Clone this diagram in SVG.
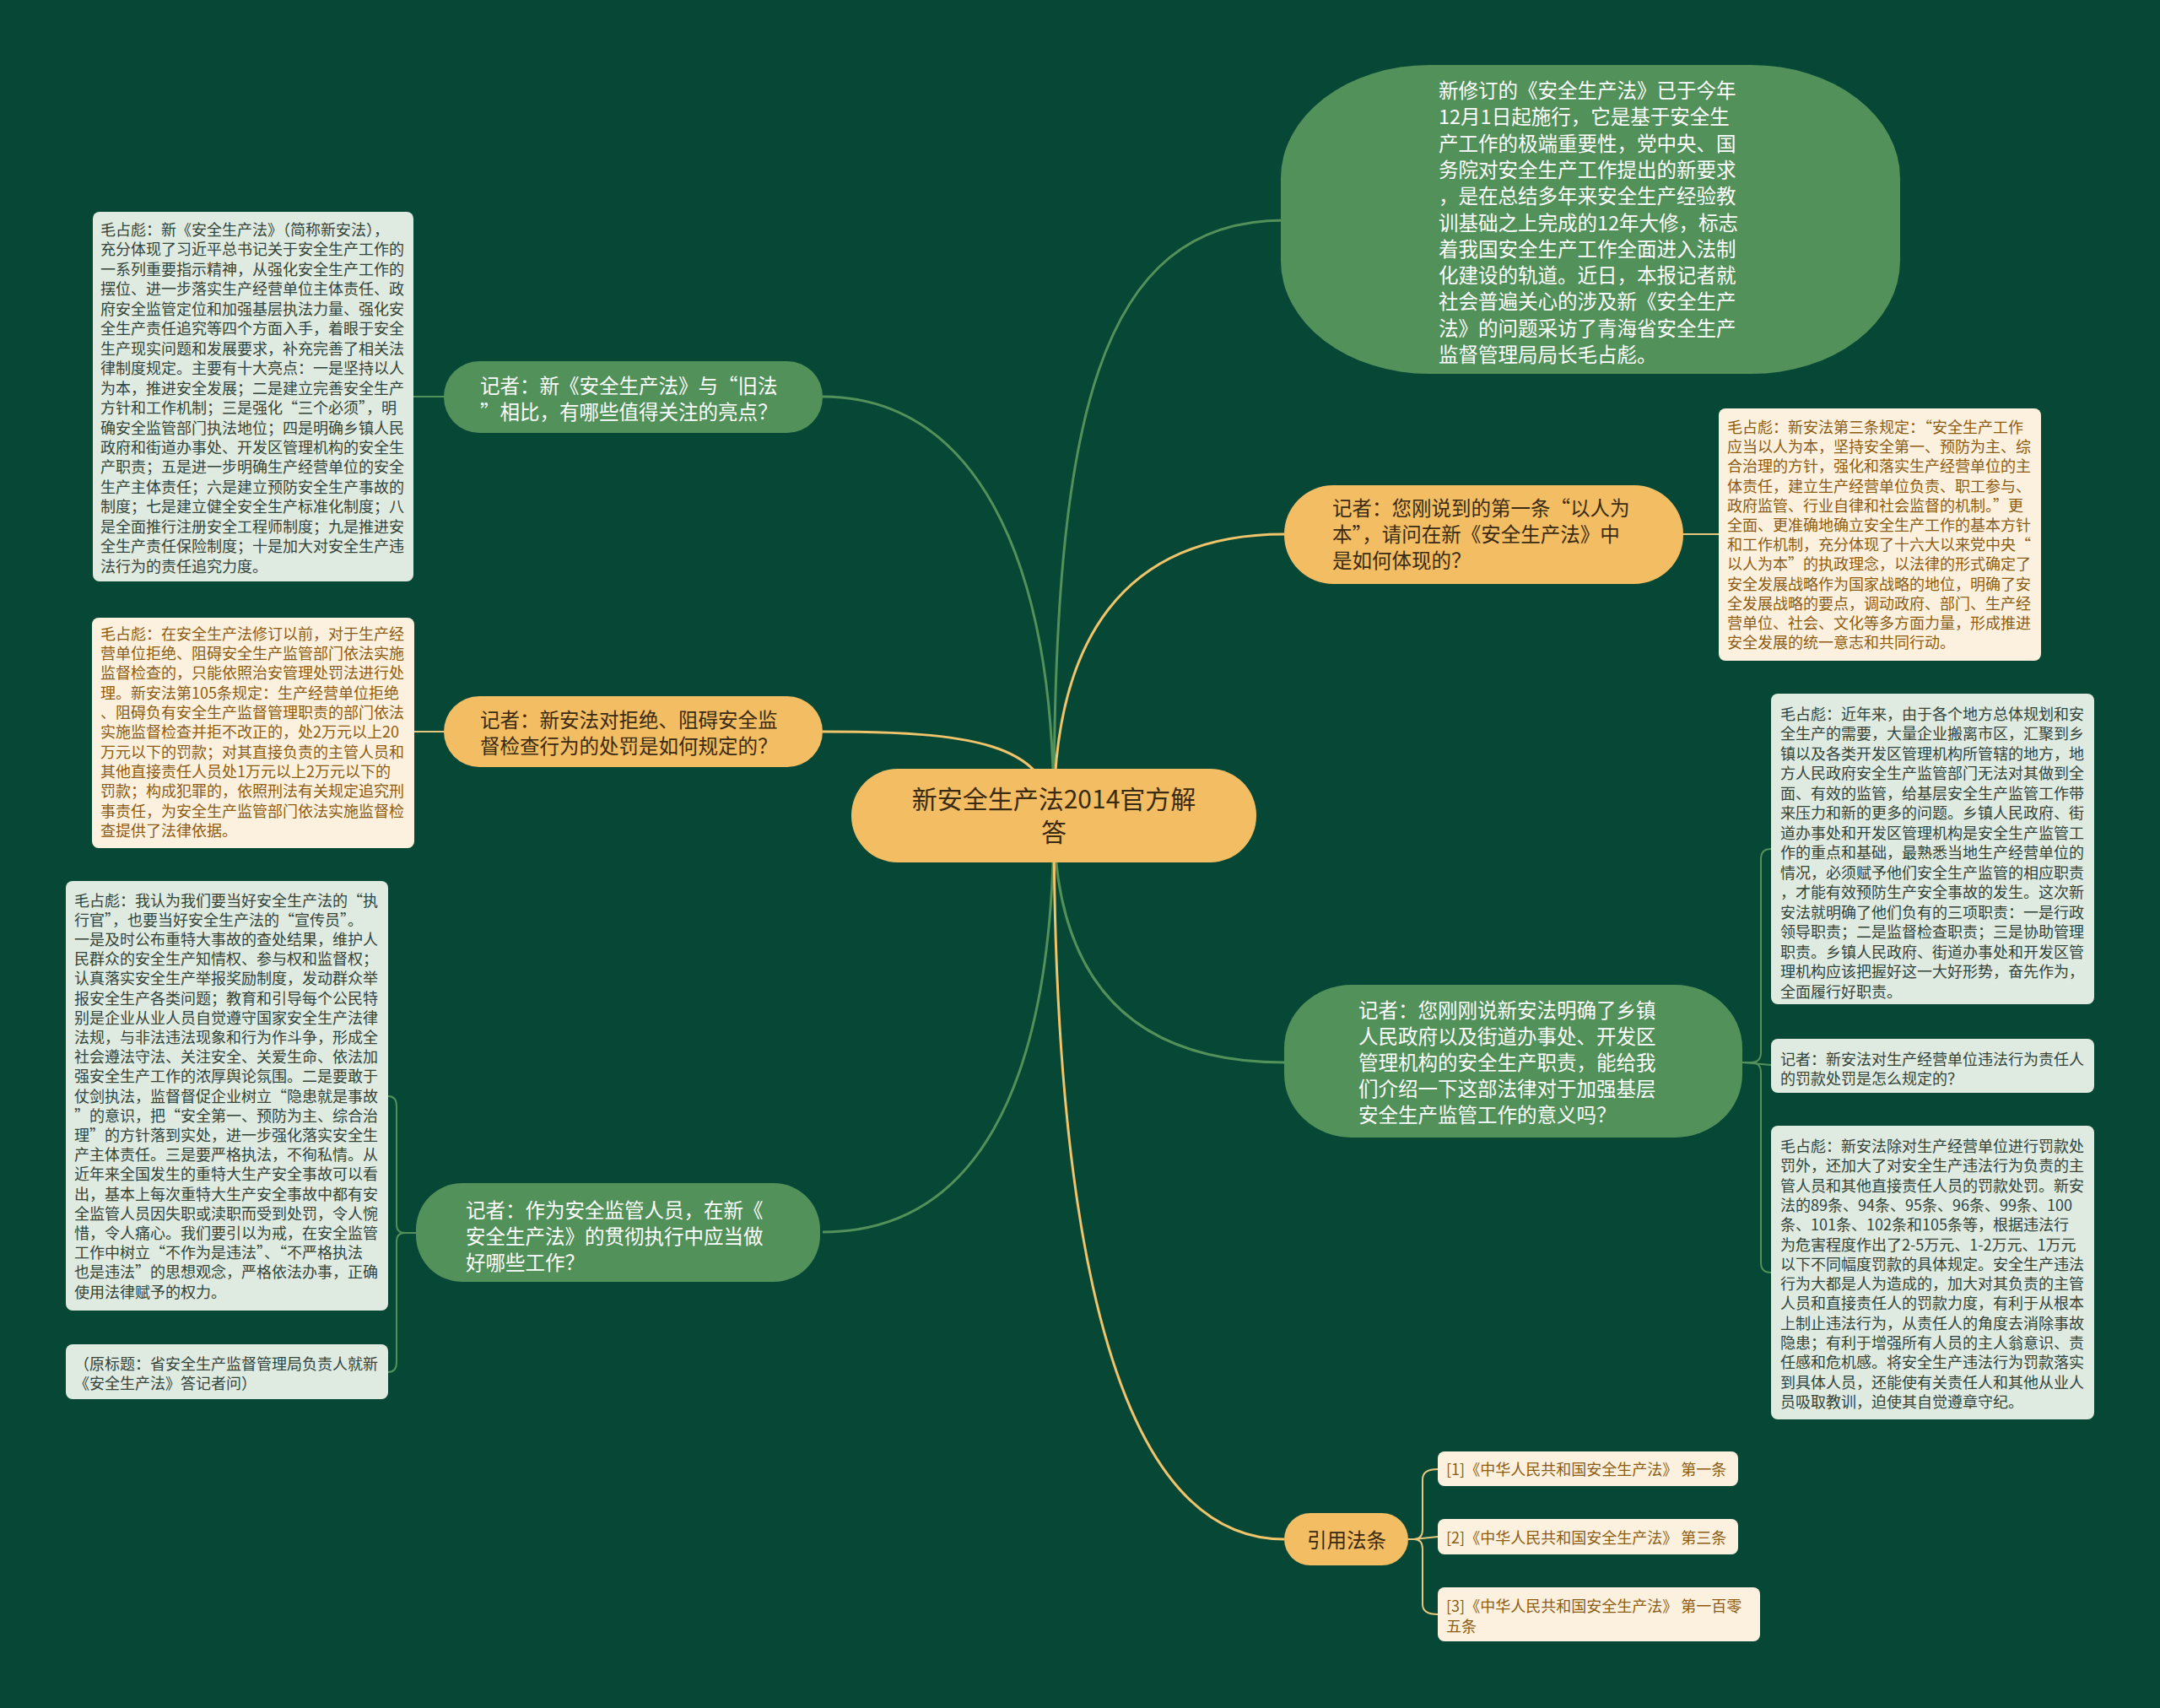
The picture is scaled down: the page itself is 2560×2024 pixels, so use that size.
<svg xmlns="http://www.w3.org/2000/svg" width="2560" height="2024" viewBox="0 0 2560 2024">
<style>
text{font-family:"Noto Sans CJK SC","Noto Sans",sans-serif;}
.gnode{fill:#52915a;}
.onode{fill:#f2bd63;}
.cream{fill:#fcf1de;}
.lg{fill:#dfeae0;}
.tw{fill:#ffffff;font-size:23.5px;}
.td{fill:#3a2a12;font-size:23.5px;}
.tb{fill:#8d5c12;font-size:18px;}
.tg{fill:#33443a;font-size:18px;}
.cg{fill:none;stroke:#52915a;stroke-width:3;}
.cy{fill:none;stroke:#efc46a;stroke-width:3;}
.cgs{fill:none;stroke:#52915a;stroke-width:2;}
.cys{fill:none;stroke:#e6c77e;stroke-width:2;}
</style>
<rect width="2560" height="2024" fill="#074735"/>
<g id="connectors">
<path class="cg" d="M1249,966 C1249,500 1300,261 1522,261"/>
<path class="cy" d="M1249,966 C1249,760 1330,633 1522,633"/>
<path class="cg" d="M975,470 C1150,470 1249,650 1249,966"/>
<path class="cy" d="M975,867 C1150,867 1240,880 1249,966"/>
<path class="cg" d="M1249,966 C1249,1300 1150,1460 975,1460"/>
<path class="cg" d="M1249,966 C1249,1150 1330,1259 1522,1259"/>
<path class="cy" d="M1249,966 C1249,1500 1330,1824 1522,1824"/>
<path class="cgs" d="M526,470 L490,470"/>
<path class="cys" d="M526,867 L491,867"/>
<path class="cys" d="M1995,633 L2037,633"/>
<path class="cgs" d="M2065,1259 L2075,1259 Q2087,1259 2087,1247 L2087,1018 Q2087,1006 2099,1006"/>
<path class="cgs" d="M2065,1259 L2099,1262"/>
<path class="cgs" d="M2075,1259 Q2087,1259 2087,1271 L2087,1496 Q2087,1508 2099,1508"/>
<path class="cgs" d="M493,1461 L480,1461 Q470,1461 470,1451 L470,1311 Q470,1299 460,1299"/>
<path class="cgs" d="M480,1461 Q470,1461 470,1471 L470,1614 Q470,1626 460,1626"/>
<path class="cys" d="M1669,1824 L1676,1824 Q1686,1824 1686,1812 L1686,1753 Q1686,1741 1704,1741"/>
<path class="cys" d="M1676,1824 L1704,1821"/>
<path class="cys" d="M1676,1824 Q1686,1824 1686,1836 L1686,1901 Q1686,1913 1704,1913"/>
</g>
<g id="center">
<rect class="onode" x="1009" y="911" width="480" height="111" rx="55"/>
<text class="td" style="font-size:30px" text-anchor="middle"><tspan x="1249" y="958">新安全生产法2014官方解</tspan><tspan x="1249" y="997">答</tspan></text>
</g>
<g id="intro">
<rect class="gnode" x="1518" y="77" width="734" height="366" rx="176" ry="134"/>
<text class="tw"><tspan x="1705" y="116">新修订的《安全生产法》已于今年</tspan><tspan x="1705" y="147.3">12月1日起施行，它是基于安全生</tspan><tspan x="1705" y="178.6">产工作的极端重要性，党中央、国</tspan><tspan x="1705" y="209.9">务院对安全生产工作提出的新要求</tspan><tspan x="1705" y="241.2">，是在总结多年来安全生产经验教</tspan><tspan x="1705" y="272.5">训基础之上完成的12年大修，标志</tspan><tspan x="1705" y="303.8">着我国安全生产工作全面进入法制</tspan><tspan x="1705" y="335.1">化建设的轨道。近日，本报记者就</tspan><tspan x="1705" y="366.4">社会普遍关心的涉及新《安全生产</tspan><tspan x="1705" y="397.7">法》的问题采访了青海省安全生产</tspan><tspan x="1705" y="429">监督管理局局长毛占彪。</tspan></text>
</g>
<g id="q-right-1">
<rect class="onode" x="1522" y="575" width="473" height="117" rx="58"/>
<text class="td"><tspan x="1579" y="611">记者：您刚说到的第一条“以人为</tspan><tspan x="1579" y="642">本”，请问在新《安全生产法》中</tspan><tspan x="1579" y="673">是如何体现的？</tspan></text>
</g>
<g id="a-right-1">
<rect class="cream" x="2037" y="484" width="382" height="299" rx="8"/>
<text class="tb"><tspan x="2047" y="513">毛占彪：新安法第三条规定：“安全生产工作</tspan><tspan x="2047" y="536.2">应当以人为本，坚持安全第一、预防为主、综</tspan><tspan x="2047" y="559.4">合治理的方针，强化和落实生产经营单位的主</tspan><tspan x="2047" y="582.6">体责任，建立生产经营单位负责、职工参与、</tspan><tspan x="2047" y="605.8">政府监管、行业自律和社会监督的机制。”更</tspan><tspan x="2047" y="629">全面、更准确地确立安全生产工作的基本方针</tspan><tspan x="2047" y="652.2">和工作机制，充分体现了十六大以来党中央“</tspan><tspan x="2047" y="675.4">以人为本”的执政理念，以法律的形式确定了</tspan><tspan x="2047" y="698.6">安全发展战略作为国家战略的地位，明确了安</tspan><tspan x="2047" y="721.8">全发展战略的要点，调动政府、部门、生产经</tspan><tspan x="2047" y="745">营单位、社会、文化等多方面力量，形成推进</tspan><tspan x="2047" y="768.2">安全发展的统一意志和共同行动。</tspan></text>
</g>
<g id="q-right-2">
<rect class="gnode" x="1522" y="1167" width="543" height="181" rx="80" ry="75"/>
<text class="tw"><tspan x="1610" y="1206">记者：您刚刚说新安法明确了乡镇</tspan><tspan x="1610" y="1237">人民政府以及街道办事处、开发区</tspan><tspan x="1610" y="1268">管理机构的安全生产职责，能给我</tspan><tspan x="1610" y="1299">们介绍一下这部法律对于加强基层</tspan><tspan x="1610" y="1330">安全生产监管工作的意义吗？</tspan></text>
</g>
<g id="a-right-2">
<rect class="lg" x="2099" y="822" width="383" height="368" rx="8"/>
<text class="tg"><tspan x="2110" y="852.5">毛占彪：近年来，由于各个地方总体规划和安</tspan><tspan x="2110" y="876">全生产的需要，大量企业搬离市区，汇聚到乡</tspan><tspan x="2110" y="899.5">镇以及各类开发区管理机构所管辖的地方，地</tspan><tspan x="2110" y="923">方人民政府安全生产监管部门无法对其做到全</tspan><tspan x="2110" y="946.5">面、有效的监管，给基层安全生产监管工作带</tspan><tspan x="2110" y="970">来压力和新的更多的问题。乡镇人民政府、街</tspan><tspan x="2110" y="993.5">道办事处和开发区管理机构是安全生产监管工</tspan><tspan x="2110" y="1017">作的重点和基础，最熟悉当地生产经营单位的</tspan><tspan x="2110" y="1040.5">情况，必须赋予他们安全生产监管的相应职责</tspan><tspan x="2110" y="1064">，才能有效预防生产安全事故的发生。这次新</tspan><tspan x="2110" y="1087.5">安法就明确了他们负有的三项职责：一是行政</tspan><tspan x="2110" y="1111">领导职责；二是监督检查职责；三是协助管理</tspan><tspan x="2110" y="1134.5">职责。乡镇人民政府、街道办事处和开发区管</tspan><tspan x="2110" y="1158">理机构应该把握好这一大好形势，奋先作为，</tspan><tspan x="2110" y="1181.5">全面履行好职责。</tspan></text>
</g>
<g id="a-right-3">
<rect class="lg" x="2099" y="1231" width="383" height="64" rx="8"/>
<text class="tg"><tspan x="2110" y="1261.5">记者：新安法对生产经营单位违法行为责任人</tspan><tspan x="2110" y="1285">的罚款处罚是怎么规定的？</tspan></text>
</g>
<g id="a-right-4">
<rect class="lg" x="2099" y="1334" width="383" height="348" rx="8"/>
<text class="tg"><tspan x="2110" y="1365">毛占彪：新安法除对生产经营单位进行罚款处</tspan><tspan x="2110" y="1388.3">罚外，还加大了对安全生产违法行为负责的主</tspan><tspan x="2110" y="1411.6">管人员和其他直接责任人员的罚款处罚。新安</tspan><tspan x="2110" y="1434.9">法的89条、94条、95条、96条、99条、100</tspan><tspan x="2110" y="1458.2">条、101条、102条和105条等，根据违法行</tspan><tspan x="2110" y="1481.5">为危害程度作出了2-5万元、1-2万元、1万元</tspan><tspan x="2110" y="1504.8">以下不同幅度罚款的具体规定。安全生产违法</tspan><tspan x="2110" y="1528.1">行为大都是人为造成的，加大对其负责的主管</tspan><tspan x="2110" y="1551.4">人员和直接责任人的罚款力度，有利于从根本</tspan><tspan x="2110" y="1574.7">上制止违法行为，从责任人的角度去消除事故</tspan><tspan x="2110" y="1598">隐患；有利于增强所有人员的主人翁意识、责</tspan><tspan x="2110" y="1621.3">任感和危机感。将安全生产违法行为罚款落实</tspan><tspan x="2110" y="1644.6">到具体人员，还能使有关责任人和其他从业人</tspan><tspan x="2110" y="1667.9">员吸取教训，迫使其自觉遵章守纪。</tspan></text>
</g>
<g id="q-left-1">
<rect class="gnode" x="526" y="428" width="449" height="85" rx="42"/>
<text class="tw"><tspan x="569" y="466">记者：新《安全生产法》与“旧法</tspan><tspan x="569" y="497">”相比，有哪些值得关注的亮点？</tspan></text>
</g>
<g id="a-left-1">
<rect class="lg" x="110" y="251" width="380" height="438" rx="8"/>
<text class="tg"><tspan x="119" y="279">毛占彪：新《安全生产法》（简称新安法），</tspan><tspan x="119" y="302.45">充分体现了习近平总书记关于安全生产工作的</tspan><tspan x="119" y="325.9">一系列重要指示精神，从强化安全生产工作的</tspan><tspan x="119" y="349.35">摆位、进一步落实生产经营单位主体责任、政</tspan><tspan x="119" y="372.8">府安全监管定位和加强基层执法力量、强化安</tspan><tspan x="119" y="396.25">全生产责任追究等四个方面入手，着眼于安全</tspan><tspan x="119" y="419.7">生产现实问题和发展要求，补充完善了相关法</tspan><tspan x="119" y="443.15">律制度规定。主要有十大亮点：一是坚持以人</tspan><tspan x="119" y="466.6">为本，推进安全发展；二是建立完善安全生产</tspan><tspan x="119" y="490.05">方针和工作机制；三是强化“三个必须”，明</tspan><tspan x="119" y="513.5">确安全监管部门执法地位；四是明确乡镇人民</tspan><tspan x="119" y="536.95">政府和街道办事处、开发区管理机构的安全生</tspan><tspan x="119" y="560.4">产职责；五是进一步明确生产经营单位的安全</tspan><tspan x="119" y="583.85">生产主体责任；六是建立预防安全生产事故的</tspan><tspan x="119" y="607.3">制度；七是建立健全安全生产标准化制度；八</tspan><tspan x="119" y="630.75">是全面推行注册安全工程师制度；九是推进安</tspan><tspan x="119" y="654.2">全生产责任保险制度；十是加大对安全生产违</tspan><tspan x="119" y="677.65">法行为的责任追究力度。</tspan></text>
</g>
<g id="q-left-2">
<rect class="onode" x="526" y="825" width="449" height="84" rx="42"/>
<text class="td"><tspan x="569" y="862">记者：新安法对拒绝、阻碍安全监</tspan><tspan x="569" y="893">督检查行为的处罚是如何规定的？</tspan></text>
</g>
<g id="a-left-2">
<rect class="cream" x="109" y="732" width="382" height="273" rx="8"/>
<text class="tb"><tspan x="119" y="757.5">毛占彪：在安全生产法修订以前，对于生产经</tspan><tspan x="119" y="780.9">营单位拒绝、阻碍安全生产监管部门依法实施</tspan><tspan x="119" y="804.2">监督检查的，只能依照治安管理处罚法进行处</tspan><tspan x="119" y="827.6">理。新安法第105条规定：生产经营单位拒绝</tspan><tspan x="119" y="850.9">、阻碍负有安全生产监督管理职责的部门依法</tspan><tspan x="119" y="874.3">实施监督检查并拒不改正的，处2万元以上20</tspan><tspan x="119" y="897.7">万元以下的罚款；对其直接负责的主管人员和</tspan><tspan x="119" y="921">其他直接责任人员处1万元以上2万元以下的</tspan><tspan x="119" y="944.4">罚款；构成犯罪的，依照刑法有关规定追究刑</tspan><tspan x="119" y="967.7">事责任，为安全生产监管部门依法实施监督检</tspan><tspan x="119" y="991.1">查提供了法律依据。</tspan></text>
</g>
<g id="q-left-3">
<rect class="gnode" x="493" y="1402" width="479" height="117" rx="55"/>
<text class="tw"><tspan x="552" y="1443">记者：作为安全监管人员，在新《</tspan><tspan x="552" y="1474">安全生产法》的贯彻执行中应当做</tspan><tspan x="552" y="1505">好哪些工作？</tspan></text>
</g>
<g id="a-left-3">
<rect class="lg" x="78" y="1044" width="382" height="509" rx="8"/>
<text class="tg"><tspan x="88" y="1073.5">毛占彪：我认为我们要当好安全生产法的“执</tspan><tspan x="88" y="1096.7">行官”，也要当好安全生产法的“宣传员”。</tspan><tspan x="88" y="1119.9">一是及时公布重特大事故的查处结果，维护人</tspan><tspan x="88" y="1143.1">民群众的安全生产知情权、参与权和监督权；</tspan><tspan x="88" y="1166.3">认真落实安全生产举报奖励制度，发动群众举</tspan><tspan x="88" y="1189.5">报安全生产各类问题；教育和引导每个公民特</tspan><tspan x="88" y="1212.7">别是企业从业人员自觉遵守国家安全生产法律</tspan><tspan x="88" y="1235.9">法规，与非法违法现象和行为作斗争，形成全</tspan><tspan x="88" y="1259.1">社会遵法守法、关注安全、关爱生命、依法加</tspan><tspan x="88" y="1282.3">强安全生产工作的浓厚舆论氛围。二是要敢于</tspan><tspan x="88" y="1305.5">仗剑执法，监督督促企业树立“隐患就是事故</tspan><tspan x="88" y="1328.7">”的意识，把“安全第一、预防为主、综合治</tspan><tspan x="88" y="1351.9">理”的方针落到实处，进一步强化落实安全生</tspan><tspan x="88" y="1375.1">产主体责任。三是要严格执法，不徇私情。从</tspan><tspan x="88" y="1398.3">近年来全国发生的重特大生产安全事故可以看</tspan><tspan x="88" y="1421.5">出，基本上每次重特大生产安全事故中都有安</tspan><tspan x="88" y="1444.7">全监管人员因失职或渎职而受到处罚，令人惋</tspan><tspan x="88" y="1467.9">惜，令人痛心。我们要引以为戒，在安全监管</tspan><tspan x="88" y="1491.1">工作中树立“不作为是违法”、“不严格执法</tspan><tspan x="88" y="1514.3">也是违法”的思想观念，严格依法办事，正确</tspan><tspan x="88" y="1537.5">使用法律赋予的权力。</tspan></text>
</g>
<g id="a-left-4">
<rect class="lg" x="78" y="1593" width="382" height="65" rx="8"/>
<text class="tg"><tspan x="88" y="1622.5">（原标题：省安全生产监督管理局负责人就新</tspan><tspan x="88" y="1645.5">《安全生产法》答记者问）</tspan></text>
</g>
<g id="refs">
<rect class="onode" x="1522" y="1793" width="147" height="62" rx="31"/>
<text class="td" text-anchor="middle" x="1596" y="1834">引用法条</text>
</g>
<g id="ref-1">
<rect class="cream" x="1704" y="1720" width="356" height="41" rx="8"/>
<text class="tb" x="1714" y="1748">[1]《中华人民共和国安全生产法》 第一条</text>
</g>
<g id="ref-2">
<rect class="cream" x="1704" y="1800" width="356" height="42" rx="8"/>
<text class="tb" x="1714" y="1828.5">[2]《中华人民共和国安全生产法》 第三条</text>
</g>
<g id="ref-3">
<rect class="cream" x="1704" y="1881" width="382" height="64" rx="8"/>
<text class="tb"><tspan x="1714" y="1910">[3]《中华人民共和国安全生产法》 第一百零</tspan><tspan x="1714" y="1934">五条</tspan></text>
</g>
</svg>
